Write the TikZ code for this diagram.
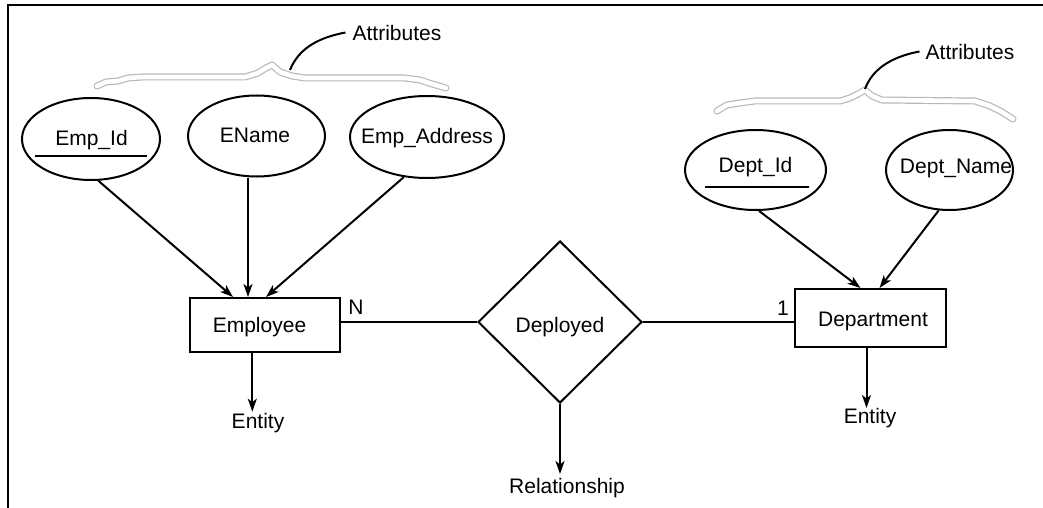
\documentclass[tikz,border=0pt]{standalone}
\usepackage{fontspec}
\setmainfont{Liberation Sans}
\usetikzlibrary{shapes.geometric,arrows.meta,calc}
\begin{document}
\begin{tikzpicture}[x=1pt,y=-1pt,
  attr/.style={draw,ellipse,line width=2pt,inner sep=0pt},
  ent/.style={draw,rectangle,line width=2pt,inner sep=0pt},
  rel/.style={draw,diamond,line width=2pt,inner sep=0pt,minimum width=164pt,minimum height=162pt},
  lbl/.style={inner sep=0pt,anchor=base,font=\fontsize{21}{25}\selectfont},
  conn/.style={line width=2pt},
  arr/.style={conn,-{Stealth[length=13pt,width=9pt,inset=3.5pt]}},
  braceout/.style={draw=black!28,line width=7pt,line join=round,line cap=round},
  bracein/.style={draw=white,line width=4.6pt,line join=round,line cap=round}
]
\useasboundingbox (0,0) rectangle (1043,508);
% frame
\draw[line width=2.2pt,line join=miter] (8,508) -- (8,5) -- (1043,5);

% braces
\def\leftbrace{(97,86) -- (106,82) -- (118,81) -- (128,78) -- (142,77) -- (245,77) -- (258,73) -- (266,68) -- (272,65) -- (280,72) -- (292,76) -- (305,78) -- (405,78) -- (420,80) -- (432,84) -- (446,88)}
\def\rightbrace{(717,111) -- (727,105) -- (740,103) -- (755,101) -- (840,101) -- (850,98) -- (858,94) -- (865,90) -- (872,96) -- (882,100) -- (975,101) -- (990,106) -- (1002,112) -- (1013,119)}
\path[braceout] \leftbrace;
\path[bracein] \leftbrace;
\path[braceout] \rightbrace;
\path[bracein] \rightbrace;

% attribute labels
\node[lbl] (attL) at (397,41) {Attributes};
\node[lbl] (attR) at (970,60) {Attributes};
\coordinate (lbpeak) at (290,70);
\coordinate (rbpeak) at (865,89);
\draw[line width=2pt] (lbpeak) .. controls (298,50) and (316,38) .. ([xshift=-7pt,yshift=1pt]attL.west);
\draw[line width=2pt] (rbpeak) .. controls (872,70) and (890,57) .. ([xshift=-6pt,yshift=1pt]attR.west);

% attributes (ellipses)
\node[attr,minimum width=138pt,minimum height=82pt] (empid) at (91,139) {};
\node[attr,minimum width=137pt,minimum height=81pt] (ename) at (256.5,136) {};
\node[attr,minimum width=154pt,minimum height=82pt] (empaddr) at (427,137) {};
\node[attr,minimum width=141pt,minimum height=80pt] (deptid) at (755.5,170) {};
\node[attr,minimum width=127pt,minimum height=80pt] (deptname) at (949.5,170) {};

\node[lbl] (empidt) at (91.5,146) {Emp\_Id};
\node[lbl] (enamet) at (255,142.6) {EName};
\node[lbl] (empaddrt) at (427,143) {Emp\_Address};
\node[lbl] (deptidt) at (755.5,172.5) {Dept\_Id};
\node[lbl] (deptnamet) at (956,173.5) {Dept\_Name};

% key underlines
\draw[conn] (35,155.7) -- (146.7,155.7);
\draw[conn] (705,186.7) -- (809,186.7);

% entities and relationship
\node[ent,minimum width=150pt,minimum height=54pt] (emp) at (265,325) {};
\node[lbl] (empt) at (259.5,332.5) {Employee};
\node[ent,minimum width=151pt,minimum height=58pt] (dept) at (870.5,318) {};
\node[lbl] (deptt) at (873,326.5) {Department};
\node[rel] (dep) at (560,322) {};
\node[lbl] (dept2) at (560,332.5) {Deployed};

% cardinalities
\node[lbl] (cardN) at (356,314.3) {N};
\node[lbl] (card1) at (783,315) {1};

% attribute arrows
\draw[arr] (empid.-80) -- ([xshift=-32pt]emp.north);
\draw[arr] ([xshift=-8.5pt]ename.south) -- ([xshift=-17pt]emp.north);
\draw[arr] (empaddr.-120) -- ([xshift=1pt]emp.north);
\draw[arr] (deptid.-85) -- ([xshift=-10pt]dept.north);
\draw[arr] (deptname.-105) -- ([xshift=9pt]dept.north);

% relationship lines
\draw[conn] (emp.east |- dep.west) -- (dep.west);
\draw[conn] (dep.east) -- (dept.west |- dep.east);

% pointer labels
\node[lbl] (ent1) at (258,428) {Entity};
\node[lbl] (ent2) at (870,423) {Entity};
\node[lbl] (relt) at (567,493) {Relationship};
\coordinate (ent1tip) at (252.3,411.7);
\coordinate (ent2tip) at (866.5,408);
\coordinate (reltip) at (560,474);
\draw[arr] ([xshift=-12.7pt]emp.south) -- (ent1tip);
\draw[arr] ([xshift=-4pt]dept.south) -- (ent2tip);
\draw[arr] (dep.south) -- (reltip);
\end{tikzpicture}
\end{document}
